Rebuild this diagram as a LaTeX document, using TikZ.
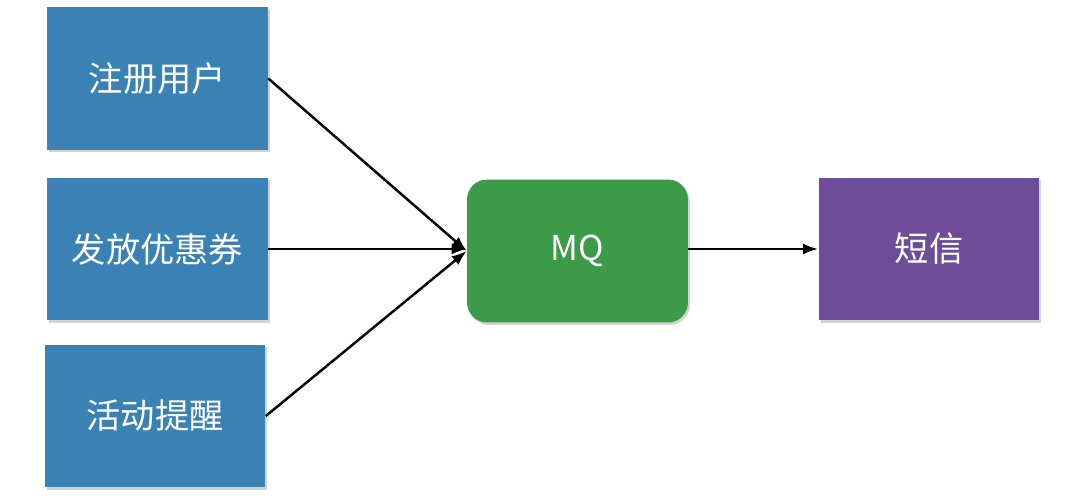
\documentclass[tikz,border=0pt]{standalone}
\usepackage{fontspec}
\setmainfont{Noto Sans CJK SC}
\usetikzlibrary{shadows, arrows.meta}
\definecolor{boxblue}{HTML}{3A82B4}
\definecolor{mqgreen}{HTML}{3B9B49}
\definecolor{smspurple}{HTML}{6E4C98}
\tikzset{
  card/.style={rectangle, minimum width=4.42cm, minimum height=2.86cm, inner sep=0pt,
    text=white, font=\fontsize{19.5}{23}\selectfont,
    drop shadow={shadow xshift=0.04cm, shadow yshift=-0.05cm, opacity=0.35}},
  link/.style={-{Latex[length=0.3cm, width=0.22cm]}, line width=1.4pt}
}
\begin{document}
\begin{tikzpicture}[x=0.02cm, y=-0.02cm]
            \useasboundingbox (0,0) rectangle (1080,496);
            % Nodes
            \node[card, fill=boxblue] (reg) at (157.5, 78.5) {注册用户};
            \node[card, fill=boxblue] (coupon) at (157.5, 249) {发放优惠券};
            \node[card, fill=boxblue] (remind) at (155, 416) {活动提醒};
            \node[card, fill=mqgreen, rounded corners=0.4cm] (mq) at (577.5, 251) {MQ};
            \node[card, fill=smspurple] (sms) at (929, 249) {短信};

            % Edges
            \draw[link] (reg.east) -- (mq.west);
            \draw[link] (coupon.east) -- (coupon.east -| mq.west);
            \draw[link] (remind.east) -- (mq.west);
            \draw[link] (mq.east |- sms.west) -- (sms.west);
        \end{tikzpicture}
\end{document}
